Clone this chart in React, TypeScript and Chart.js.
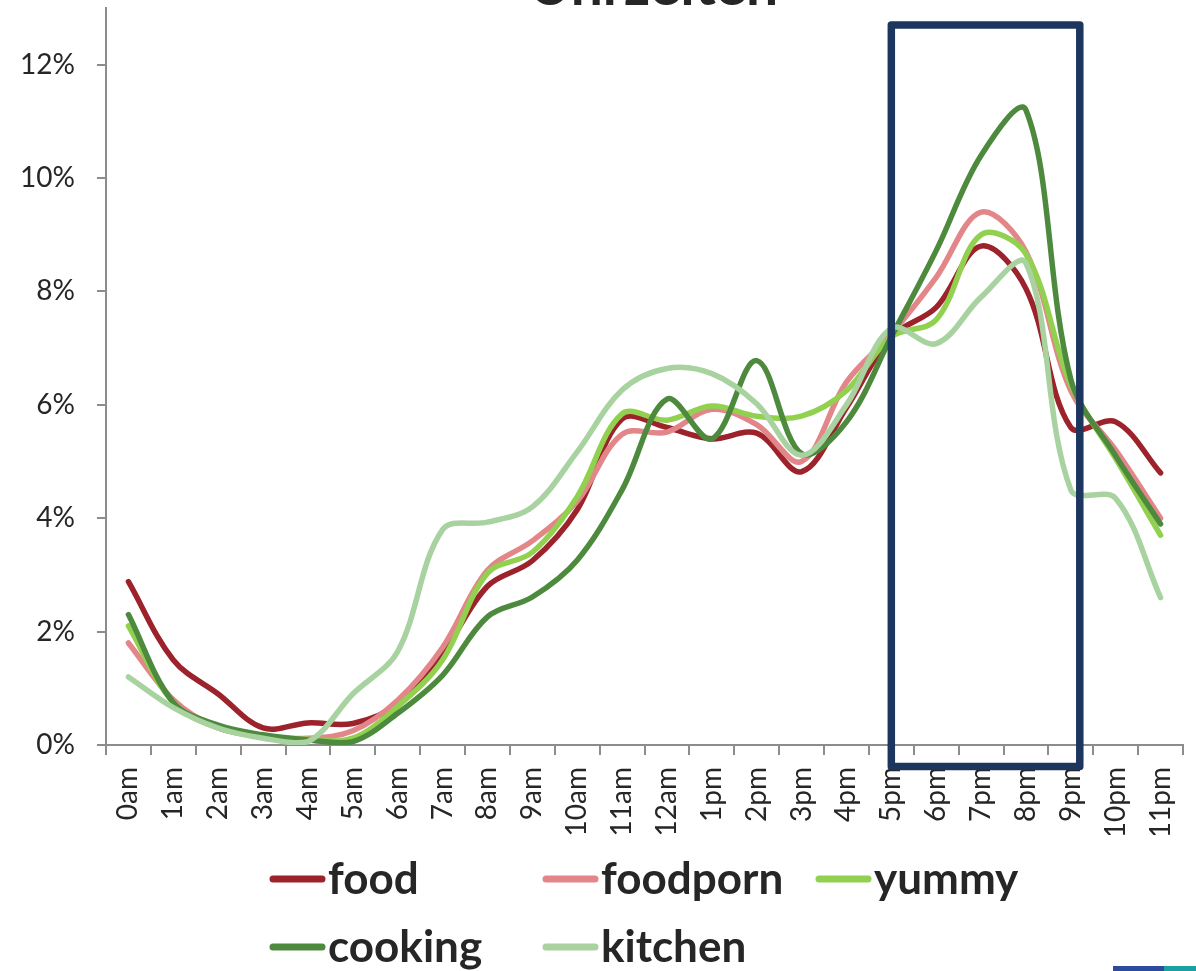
import React, { useEffect, useRef } from 'react';
import { Chart, registerables } from 'chart.js';

Chart.register(...registerables);

const TITLE = 'Uhrzeiten';

const HOURS = [
  '0am', '1am', '2am', '3am', '4am', '5am', '6am', '7am', '8am', '9am', '10am', '11am',
  '12am', '1pm', '2pm', '3pm', '4pm', '5pm', '6pm', '7pm', '8pm', '9pm', '10pm', '11pm',
];

// values in percent
const FOOD = [2.88, 1.5, 0.9, 0.3, 0.39, 0.38, 0.72, 1.62, 2.8, 3.25, 4.15, 5.75, 5.6, 5.4, 5.5, 4.82, 5.95, 7.2, 7.72, 8.8, 8.05, 5.6, 5.7, 4.8];
const FOODPORN = [1.8, 0.8, 0.3, 0.15, 0.12, 0.25, 0.79, 1.72, 3.08, 3.6, 4.3, 5.48, 5.52, 5.92, 5.65, 5.0, 6.4, 7.25, 8.25, 9.4, 8.7, 6.25, 5.2, 4.0];
const YUMMY = [2.1, 0.75, 0.3, 0.15, 0.1, 0.12, 0.68, 1.5, 3.03, 3.4, 4.38, 5.84, 5.73, 5.98, 5.8, 5.8, 6.25, 7.2, 7.5, 9.0, 8.66, 6.35, 5.05, 3.7];
const COOKING = [2.3, 0.75, 0.35, 0.18, 0.09, 0.06, 0.56, 1.23, 2.26, 2.61, 3.26, 4.5, 6.1, 5.4, 6.78, 5.14, 5.7, 7.2, 8.72, 10.4, 11.2, 6.45, 5.1, 3.9];
const KITCHEN = [1.2, 0.66, 0.3, 0.12, 0.06, 0.9, 1.65, 3.8, 3.93, 4.2, 5.17, 6.26, 6.64, 6.55, 6.02, 5.11, 6.0, 7.35, 7.08, 7.9, 8.5, 4.5, 4.35, 2.6];

const SERIES_NAMES = ['food', 'foodporn', 'yummy', 'cooking', 'kitchen'];
const SERIES_VALUES = [FOOD, FOODPORN, YUMMY, COOKING, KITCHEN];
const SERIES_COLORS = ['#9C232B', '#E3868A', '#92D050', '#4E8A3E', '#A8D2A0'];

const Y_MIN = 0;
const Y_MAX = 13;
const Y_STEP = 2;

// highlighted evening window (category index / percent units)
const HIGHLIGHT_FROM = 17;
const HIGHLIGHT_TO = 21.2;
const HIGHLIGHT_TOP = 12.7;
const HIGHLIGHT_BOTTOM = -0.38;

const TEXT_COLOR = '#262626';
const AXIS_COLOR = '#8C8C8C';
const FONT = 'Lato, "Open Sans", sans-serif';

const highlightPlugin = {
  id: 'highlightBox',
  afterDraw(chart: any) {
    const { ctx, scales } = chart;
    const x = scales.x;
    const y = scales.y;
    const l = x.getPixelForValue(HIGHLIGHT_FROM);
    const r = x.getPixelForValue(HIGHLIGHT_TO);
    const t = y.getPixelForValue(HIGHLIGHT_TOP);
    const b = y.getPixelForValue(HIGHLIGHT_BOTTOM);
    ctx.save();
    ctx.strokeStyle = '#1C365E';
    ctx.lineWidth = 7.5;
    ctx.lineJoin = 'round';
    ctx.strokeRect(l, t, r - l, b - t);
    ctx.restore();
  },
};

const titlePlugin = {
  id: 'clippedTitle',
  afterDraw(chart: any) {
    const { ctx, chartArea } = chart;
    ctx.save();
    ctx.font = `bold 57px ${FONT}`;
    ctx.fillStyle = TEXT_COLOR;
    ctx.textAlign = 'center';
    ctx.textBaseline = 'alphabetic';
    ctx.fillText(TITLE, (chartArea.left + chartArea.right) / 2 + 9, 5);
    ctx.restore();
  },
};

const columnLegendPlugin = {
  id: 'columnLegend',
  afterDraw(chart: any, _args: any, opts: any) {
    const { ctx } = chart;
    ctx.save();
    chart.data.datasets.forEach((ds: any, i: number) => {
      const col = i % opts.columns;
      const row = Math.floor(i / opts.columns);
      const x0 = opts.left + col * opts.colWidth;
      const yc = opts.top + row * opts.rowHeight;
      ctx.strokeStyle = ds.borderColor;
      ctx.lineWidth = 7;
      ctx.lineCap = 'round';
      ctx.beginPath();
      ctx.moveTo(x0 + 3, yc);
      ctx.lineTo(x0 + 52, yc);
      ctx.stroke();
      ctx.fillStyle = TEXT_COLOR;
      ctx.font = `bold 44px ${FONT}`;
      ctx.textAlign = 'left';
      ctx.textBaseline = 'alphabetic';
      ctx.fillText(ds.label, x0 + 58, yc + 15);
    });
    ctx.restore();
  },
};

export default function App() {
  const canvasRef = useRef<HTMLCanvasElement | null>(null);

  useEffect(() => {
    document.body.style.margin = '0';
    document.body.style.overflow = 'hidden';
    const canvas = canvasRef.current;
    if (!canvas) return;

    const chart = new Chart(canvas, {
      type: 'line',
      data: {
        labels: HOURS,
        datasets: SERIES_NAMES.map((name, i) => ({
          label: name,
          data: SERIES_VALUES[i],
          borderColor: SERIES_COLORS[i],
          backgroundColor: SERIES_COLORS[i],
          borderWidth: 5.5,
          pointRadius: 0,
          pointHoverRadius: 0,
          tension: 0.35,
          borderCapStyle: 'round',
          borderJoinStyle: 'round',
          fill: false,
          order: SERIES_NAMES.length - i,
        })),
      },
      options: {
        responsive: false,
        animation: false,
        devicePixelRatio: 1,
        layout: { padding: { left: 0, right: 13, top: 8, bottom: 136 } },
        plugins: {
          legend: { display: false },
          tooltip: { enabled: false },
          title: { display: false },
          columnLegend: { left: 270, top: 879, colWidth: 273, rowHeight: 68, columns: 3 },
        } as any,
        scales: {
          x: {
            type: 'category',
            offset: true,
            grid: {
              display: true,
              offset: true,
              drawOnChartArea: false,
              drawTicks: true,
              tickLength: 10,
              color: AXIS_COLOR,
              lineWidth: 2,
            },
            border: { display: true, color: AXIS_COLOR, width: 2 },
            ticks: {
              autoSkip: false,
              maxRotation: 90,
              minRotation: 90,
              padding: 12,
              color: TEXT_COLOR,
              font: { family: FONT, size: 28 },
            },
            afterFit(scale: any) {
              scale.height = 90;
              scale.paddingLeft = 0;
              scale.paddingRight = 0;
              scale.paddingTop = 0;
              scale.paddingBottom = 0;
            },
          },
          y: {
            type: 'linear',
            min: Y_MIN,
            max: Y_MAX,
            grid: {
              display: true,
              drawOnChartArea: false,
              drawTicks: true,
              tickLength: 9,
              color: AXIS_COLOR,
              lineWidth: 2,
            },
            border: { display: true, color: AXIS_COLOR, width: 2 },
            ticks: {
              stepSize: Y_STEP,
              padding: 22,
              color: TEXT_COLOR,
              font: { family: FONT, size: 28 },
              callback: (v: any) => `${v}%`,
            },
            afterBuildTicks(scale: any) {
              scale.ticks = scale.ticks.filter((t: any) => t.value % Y_STEP === 0);
            },
            afterFit(scale: any) {
              scale.width = 106;
              scale.paddingTop = 0;
              scale.paddingBottom = 0;
              scale.paddingLeft = 0;
              scale.paddingRight = 0;
            },
          },
        },
      },
      plugins: [highlightPlugin, titlePlugin, columnLegendPlugin],
    } as any);

    return () => chart.destroy();
  }, []);

  return (
    <div style={{ position: 'relative', width: 1196, height: 971, background: '#fff', overflow: 'hidden' }}>
      <canvas ref={canvasRef} width={1196} height={971} style={{ display: 'block' }} />
      <div style={{ position: 'absolute', left: 1113, top: 966, width: 51, height: 5, background: '#2E4A9E' }} />
      <div style={{ position: 'absolute', left: 1164, top: 966, width: 32, height: 5, background: '#1BA0A0' }} />
    </div>
  );
}
